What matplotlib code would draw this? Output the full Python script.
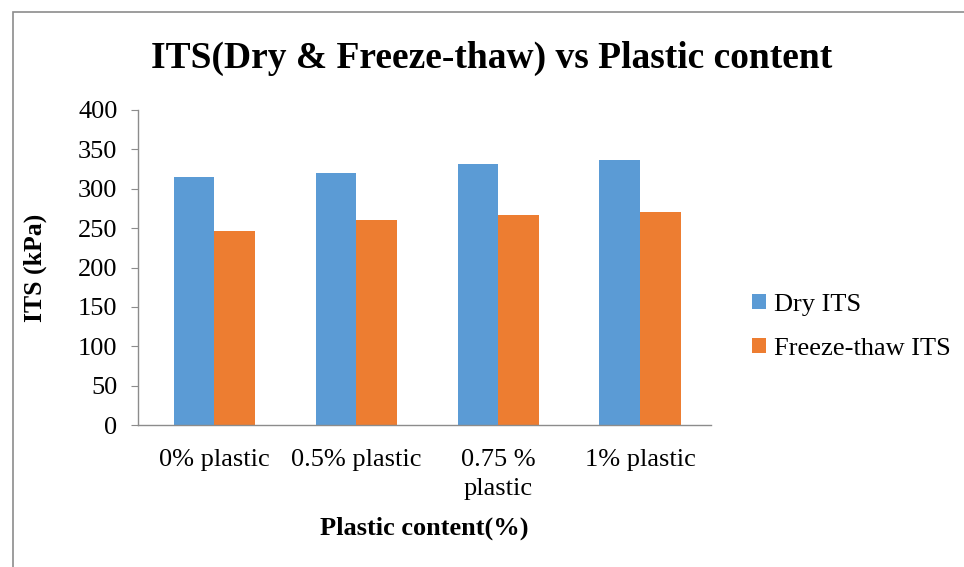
import matplotlib
matplotlib.use("Agg")
import matplotlib.pyplot as plt
import numpy as np
from matplotlib.patches import Rectangle, Patch

categories = ["0% plastic", "0.5% plastic", "0.75 %\nplastic", "1% plastic"]
dry_its = [315, 320, 331, 336]
freeze_thaw_its = [246, 260, 267, 270]
series_names = ["Dry ITS", "Freeze-thaw ITS"]
yticks = [0, 50, 100, 150, 200, 250, 300, 350, 400]

plt.rcParams['font.family'] = ['Liberation Serif', 'DejaVu Serif']

fig = plt.figure(figsize=(9.64, 5.67), dpi=100)
ax = fig.add_axes([0.1435, 0.2504, 0.5941, 0.5556])

# outer border
fig.patches.append(Rectangle((13/964, -0.1), 2, 1.1 - 12/567, transform=fig.transFigure,
                             fill=False, edgecolor='#8c8c8c', linewidth=1.2))

x = np.arange(len(categories))
w = 0.286
c_blue = '#5B9BD5'
c_orange = '#ED7D31'
ax.bar(x - w/2, dry_its, w, color=c_blue, label=series_names[0])
ax.bar(x + w/2, freeze_thaw_its, w, color=c_orange, label=series_names[1])

ax.set_xlim(-0.535, len(categories) - 0.5)
ax.set_ylim(0, 400)
ax.set_yticks(yticks)
ax.set_xticks(x)
ax.set_xticklabels(categories, fontsize=19, linespacing=1.45)
ax.tick_params(axis='y', labelsize=19, length=5, color='#8c8c8c', pad=10)
ax.tick_params(axis='x', length=0, pad=17)
for s in ['top', 'right']:
    ax.spines[s].set_visible(False)
for s in ['left', 'bottom']:
    ax.spines[s].set_color('#8c8c8c')
    ax.spines[s].set_linewidth(1.0)

ax.set_ylabel("ITS (kPa)", fontsize=18.5, fontweight='bold', labelpad=22)
ax.set_xlabel("Plastic content(%)", fontsize=19, fontweight='bold', labelpad=12)
fig.text(492/964, 1 - 58/567, "ITS(Dry & Freeze-thaw) vs Plastic content",
         ha='center', va='center', fontsize=27, fontweight='bold')

handles = [Patch(facecolor=c_blue), Patch(facecolor=c_orange)]
fig.legend(handles, series_names, loc='center left', bbox_to_anchor=(734/964, 1 - 327/567),
           frameon=False, fontsize=19, handlelength=0.5, handleheight=0.5,
           handletextpad=0.3, labelspacing=0.85, borderpad=0.2)

fig.savefig("out.png", dpi=100)
